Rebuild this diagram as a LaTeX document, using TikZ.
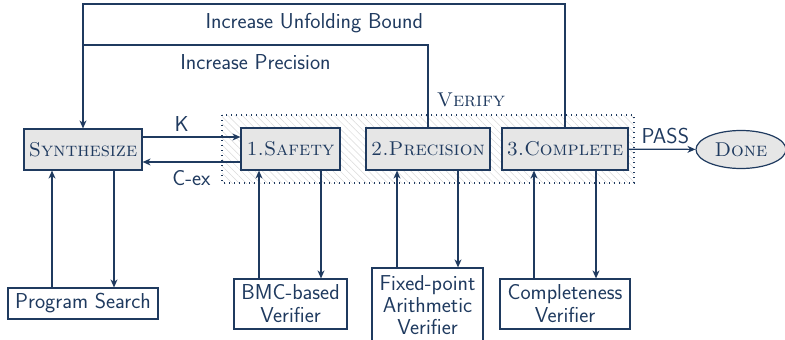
\documentclass[tikz,border=0pt]{standalone}
\usetikzlibrary{arrows.meta,patterns.meta,shapes.geometric}
\definecolor{navy}{HTML}{1F3A5F}
\definecolor{boxfill}{HTML}{E6E6E6}
\begin{document}
\begin{tikzpicture}[x=1pt,y=-1pt,
  every node/.style={text=navy,font=\fontsize{20}{24}\selectfont},
  stage/.style={draw=navy,line width=1.2pt,fill=boxfill,rectangle,inner sep=0pt,
     font=\fontsize{20}{24}\selectfont\scshape},
  tool/.style={draw=navy,line width=1.2pt,fill=white,rectangle,inner sep=0pt,align=center,
     font=\fontsize{21.6}{23}\selectfont\sffamily},
  lbl/.style={font=\fontsize{21.6}{24}\selectfont\sffamily,inner sep=0pt},
  conn/.style={draw=navy,line width=1.2pt},
  arr/.style={conn,-{Stealth[length=8pt,width=7pt,inset=2.5pt]}}]
\useasboundingbox (0,0) rectangle (785,340);
% verify region
\path[pattern={Lines[angle=-45,distance=5pt,line width=0.5pt]},pattern color=gray!30]
  (222,115) rectangle (634,183);
\draw[navy,line width=1.2pt,dash pattern=on 1.2pt off 3.8pt] (222,115) rectangle (634,183);
\node[font=\fontsize{20}{24}\selectfont\scshape] (verify) at (471,100) {Verify};
% stage nodes
\node[stage,minimum width=118pt,minimum height=41pt] (syn) at (83,149.5) {Synthesize};
\node[stage,minimum width=99pt,minimum height=42pt] (saf) at (290.5,149) {1.Safety};
\node[stage,minimum width=124pt,minimum height=42pt] (pre) at (428,149) {2.Precision};
\node[stage,minimum width=126pt,minimum height=42pt] (com) at (565,149) {3.Complete};
\node[draw=navy,line width=1.2pt,fill=boxfill,ellipse,inner sep=0pt,minimum width=90pt,minimum height=38pt,
  font=\fontsize{20}{24}\selectfont\scshape] (done) at (741,149.5) {Done};
% tool nodes
\node[tool,minimum width=150pt,minimum height=31pt] (ps) at (83,303.5) {Program Search};
\node[tool,minimum width=113pt,minimum height=50pt] (bmc) at (290.5,304) {BMC-based\\Verifier};
\node[tool,minimum width=111pt,minimum height=74pt,font=\fontsize{21.6}{22.2}\selectfont\sffamily] (fpa) at (427.5,305) {Fixed-point\\Arithmetic\\Verifier};
\node[tool,minimum width=130pt,minimum height=50pt] (cv) at (565,304) {Completeness\\Verifier};
% main connectors
\draw[arr] (syn.east |- 0,137) -- node[lbl,pos=0.4,above=5pt] (k) {K} (saf.west |- 0,137);
\draw[arr] (saf.west |- 0,162) -- node[lbl,pos=0.5,below=8pt] (cex) {C-ex} (syn.east |- 0,162);
\draw[arr] (com) -- node[lbl,above=5pt,pos=0.55] (pass) {PASS} (done);
% feedback loops
\coordinate (tr) at (com.north |- 0,4);
\coordinate (tl) at (syn.north |- 0,4);
\coordinate (pr) at (pre.north |- 0,45);
\coordinate (pl) at (syn.north |- 0,45);
\draw[conn] (com.north) -- (tr) -- node[lbl,pos=0.52,below=9pt] (iub) {Increase Unfolding Bound} (tl) -- (pl);
\draw[arr] (pl) -- (syn.north);
\draw[conn] (pre.north) -- (pr) -- node[lbl,pos=0.5,below=9pt] (ip) {Increase Precision} (pl);
% tool connectors
\draw[arr] ([xshift=-31pt]ps.north) -- ([xshift=-31pt]ps.north |- syn.south);
\draw[arr] ([xshift=31pt]ps.north |- syn.south) -- ([xshift=31pt]ps.north);
\draw[arr] ([xshift=-31.5pt]bmc.north) -- ([xshift=-31.5pt]bmc.north |- saf.south);
\draw[arr] ([xshift=30.5pt]bmc.north |- saf.south) -- ([xshift=30.5pt]bmc.north);
\draw[arr] ([xshift=-30.5pt]fpa.north) -- ([xshift=-30.5pt]fpa.north |- pre.south);
\draw[arr] ([xshift=30.5pt]fpa.north |- pre.south) -- ([xshift=30.5pt]fpa.north);
\draw[arr] ([xshift=-31pt]cv.north) -- ([xshift=-31pt]cv.north |- com.south);
\draw[arr] ([xshift=31pt]cv.north |- com.south) -- ([xshift=31pt]cv.north);
\end{tikzpicture}
\end{document}
